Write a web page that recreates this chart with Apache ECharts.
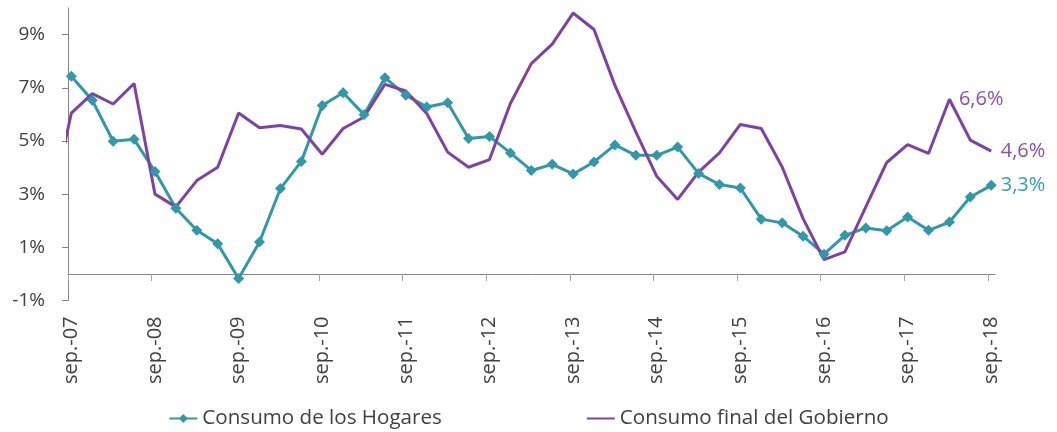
<!DOCTYPE html>
<html lang="es">
<head>
    <meta charset="UTF-8">
    <title>Consumo</title>
    <style>
        body { margin: 0; background: #fff; }
    </style>
</head>
<body>
<div id="main" style="width: 1057px;height:432px;"></div>

<script src="https://cdn.jsdelivr.net/npm/echarts@6/dist/echarts.min.js"></script>
<script>
    // etiquetas del eje (un rotulo por año, cada 4 trimestres)
    var yearLabels = ['sep.-07', 'sep.-08', 'sep.-09', 'sep.-10', 'sep.-11', 'sep.-12',
        'sep.-13', 'sep.-14', 'sep.-15', 'sep.-16', 'sep.-17', 'sep.-18'];
    var yTicks = [-1, 1, 3, 5, 7, 9];

    // variacion anual trimestral, sep-07 .. sep-18
    var hogares = [7.43, 6.53, 4.99, 5.06, 3.85, 2.47, 1.64, 1.13, -0.17, 1.20,
        3.21, 4.23, 6.33, 6.81, 5.99, 7.38, 6.72, 6.28, 6.44, 5.09,
        5.17, 4.55, 3.89, 4.12, 3.76, 4.21, 4.85, 4.46, 4.46, 4.77,
        3.78, 3.36, 3.23, 2.06, 1.92, 1.42, 0.74, 1.45, 1.73, 1.62,
        2.14, 1.64, 1.95, 2.89, 3.33];
    // gobierno arranca un trimestre antes (jun-07), recortado por el eje
    var gobierno = [2.4, 6.05, 6.78, 6.39, 7.16, 3.00, 2.52, 3.51, 4.01, 6.05,
        5.50, 5.58, 5.45, 4.50, 5.47, 5.90, 7.13, 6.88, 6.03, 4.58,
        4.01, 4.30, 6.41, 7.91, 8.64, 9.81, 9.19, 7.09, 5.34, 3.67,
        2.80, 3.83, 4.55, 5.62, 5.47, 4.02, 2.08, 0.54, 0.83, 2.52,
        4.19, 4.86, 4.53, 6.57, 5.03, 4.62];
    var gobiernoStart = -1;

    var tealColor = '#3297a9';
    var purpleColor = '#7e42a3';
    var shift = 0.16; // los ticks van un poco antes que los puntos
    var font = 'Open Sans';

    function fmt(v) {
        return v.toFixed(1).replace('.', ',') + '%';
    }

    var hogaresData = hogares.map(function (v, i) { return [i, v]; });
    var gobiernoData = gobierno.map(function (v, i) { return [i + gobiernoStart, v]; });

    function endMark(idx, value, color) {
        return {
            coord: [idx, value],
            label: {
                show: true,
                position: 'right',
                distance: 9,
                formatter: fmt(value),
                color: color,
                fontSize: 20,
                fontFamily: font
            }
        };
    }

    var chart = echarts.init(document.getElementById('main'));
    var option = {
        animation: false,
        grid: { left: 68, right: 62, top: 8, bottom: 131.5 },
        legend: {
            left: 'center',
            top: 403,
            itemWidth: 28,
            itemHeight: 11,
            itemGap: 144,
            textStyle: { fontSize: 20.6, color: '#404040', fontFamily: font },
            data: [
                { name: 'Consumo de los Hogares' },
                { name: 'Consumo final del Gobierno', itemStyle: { opacity: 0 } }
            ]
        },
        xAxis: {
            type: 'value',
            min: -shift,
            max: hogares.length - 1 + 0.18,
            splitLine: { show: false },
            axisLine: { onZero: true, lineStyle: { color: '#868686', width: 1 } },
            axisTick: {
                show: true,
                length: 7,
                customValues: yearLabels.map(function (_, k) { return 4 * k - shift; }),
                lineStyle: { color: '#a6a6a6' }
            },
            axisLabel: {
                rotate: 90,
                margin: 16,
                fontSize: 20,
                color: '#404040',
                fontFamily: font,
                customValues: yearLabels.map(function (_, k) { return 4 * k; }),
                formatter: function (v) { return yearLabels[Math.round(v / 4)] || ''; }
            }
        },
        yAxis: {
            type: 'value',
            min: -1,
            max: 10,
            splitLine: { show: false },
            axisLine: { show: true, onZero: false, lineStyle: { color: '#868686', width: 1 } },
            axisTick: {
                show: true,
                length: 6,
                customValues: yTicks,
                lineStyle: { color: '#868686' }
            },
            axisLabel: {
                margin: 23,
                fontSize: 19,
                color: '#404040',
                fontFamily: font,
                customValues: yTicks,
                formatter: function (v) { return v + '%'; }
            }
        },
        series: [
            {
                name: 'Consumo de los Hogares',
                type: 'line',
                data: hogaresData,
                color: tealColor,
                lineStyle: { width: 3 },
                symbol: 'diamond',
                symbolSize: 11,
                showSymbol: true,
                markPoint: {
                    symbol: 'circle',
                    symbolSize: 1,
                    itemStyle: { color: 'rgba(0,0,0,0)' },
                    data: [endMark(hogares.length - 1, hogares[hogares.length - 1], '#3a9db0')]
                }
            },
            {
                name: 'Consumo final del Gobierno',
                type: 'line',
                data: gobiernoData,
                color: purpleColor,
                lineStyle: { width: 3 },
                symbol: 'none',
                clip: true,
                markPoint: {
                    symbol: 'circle',
                    symbolSize: 1,
                    itemStyle: { color: 'rgba(0,0,0,0)' },
                    data: [
                        endMark(42, gobierno[42 - gobiernoStart], '#8a4fb2'),
                        endMark(44, gobierno[44 - gobiernoStart], '#8a4fb2')
                    ]
                }
            }
        ]
    };
    chart.setOption(option);
</script>
</body>
</html>
